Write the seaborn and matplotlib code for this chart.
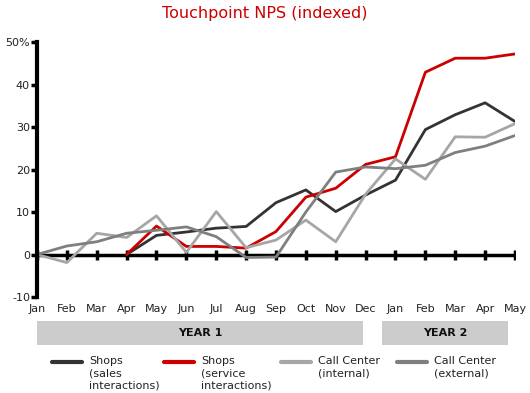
import numpy as np
import pandas as pd
import matplotlib.pyplot as plt
import seaborn as sns
from matplotlib.patches import Rectangle
from matplotlib.lines import Line2D

months = ['Jan', 'Feb', 'Mar', 'Apr', 'May', 'Jun', 'Jul', 'Aug', 'Sep', 'Oct',
          'Nov', 'Dec', 'Jan', 'Feb', 'Mar', 'Apr', 'May']
nan = np.nan
shops_sales = [nan, nan, nan, 0, 4.5, 5.3, 6.2, 6.6, 12.2, 15.2, 10.1, 14.0,
               17.5, 29.4, 32.9, 35.7, 31.3]
shops_service = [nan, nan, nan, 0, 6.7, 1.9, 1.9, 1.5, 5.4, 13.5, 15.6, 21.2,
                 23.0, 42.9, 46.2, 46.2, 47.2]
cc_internal = [0, -1.9, 5.0, 4.0, 9.1, 0.5, 10.1, 1.6, 3.4, 8.1, 3.0, 14.2,
               22.5, 17.7, 27.7, 27.6, 30.8]
cc_external = [0, 2.0, 3.0, 5.0, 5.7, 6.5, 4.2, -0.7, -0.6, 10.0, 19.4, 20.6,
               20.2, 21.0, 24.0, 25.5, 28.0]
series_names = ['Shops\n(sales\ninteractions)', 'Shops\n(service\ninteractions)',
                'Call Center\n(internal)', 'Call Center\n(external)']
colors = ['#333333', '#cc0000', '#a6a6a6', '#7f7f7f']
yticks = [-10, 0, 10, 20, 30, 40, 50]
ytick_labels = ['-10', '0', '10', '20', '30', '40', '50%']
years = ['YEAR 1', 'YEAR 2']

frames = []
for name, vals in zip(series_names, [shops_sales, shops_service, cc_internal, cc_external]):
    frames.append(pd.DataFrame({'month': np.arange(len(months)), 'value': vals, 'series': name}))
df = pd.concat(frames).dropna()

sns.set_style('white')
plt.rcParams['font.family'] = ['DejaVu Sans']

W, H = 530, 393
fig = plt.figure(figsize=(W / 100, H / 100), dpi=100)
ax = fig.add_axes([0.0698, 0.2443, 0.9019, 0.6487])

sns.lineplot(data=df, x='month', y='value', hue='series', hue_order=series_names,
             palette=colors, linewidth=2.0, legend=False, ax=ax)

# zero line with month ticks
ax.axhline(0, color='black', linewidth=2.5, zorder=1)
ax.plot(np.arange(len(months)), np.zeros(len(months)), linestyle='none',
        marker='|', markersize=7, markeredgewidth=2.5, color='black', zorder=1)

ax.set_xlim(0, len(months) - 1)
ax.set_ylim(-10, 50)
ax.set_yticks(yticks)
ax.set_yticklabels(ytick_labels, fontsize=8, color='#222222')
ax.set_xticks(np.arange(len(months)))
ax.set_xticklabels(months, fontsize=8, color='#222222')
ax.tick_params(axis='x', length=0, pad=5)
ax.tick_params(axis='y', left=True, length=4, width=2.5, pad=1, color='black')
for s in ['top', 'right', 'bottom']:
    ax.spines[s].set_visible(False)
ax.spines['left'].set_linewidth(3)
ax.spines['left'].set_color('black')
ax.set_xlabel('')
ax.set_ylabel('')

# year bands
band_x = [(-0.0, 10.9), (11.55, 15.75)]
tr = ax.get_xaxis_transform()
for (x0, x1), label in zip(band_x, years):
    ax.add_patch(Rectangle((x0, -0.188), x1 - x0, 0.094, transform=tr,
                           facecolor='#cccccc', edgecolor='none', clip_on=False))
    ax.text((x0 + x1) / 2, -0.141, label, transform=tr, ha='center', va='center',
            fontsize=8, fontweight='bold', color='#111111')

fig.suptitle('Touchpoint NPS (indexed)', x=0.5, y=0.985, fontsize=11.5, color='#cc0000')

# legend, laid out by hand in pixel positions
legend_x = [52, 164, 281, 397]
for lx, name, c in zip(legend_x, series_names, colors):
    fig.add_artist(Line2D([lx / W, (lx + 30) / W], [1 - 362 / H, 1 - 362 / H],
                          color=c, linewidth=3, transform=fig.transFigure))
    fig.text((lx + 37) / W, 1 - 356 / H, name, ha='left', va='top', fontsize=8,
             color='#222222', linespacing=1.3)

plt.savefig('out.png', dpi=100)
